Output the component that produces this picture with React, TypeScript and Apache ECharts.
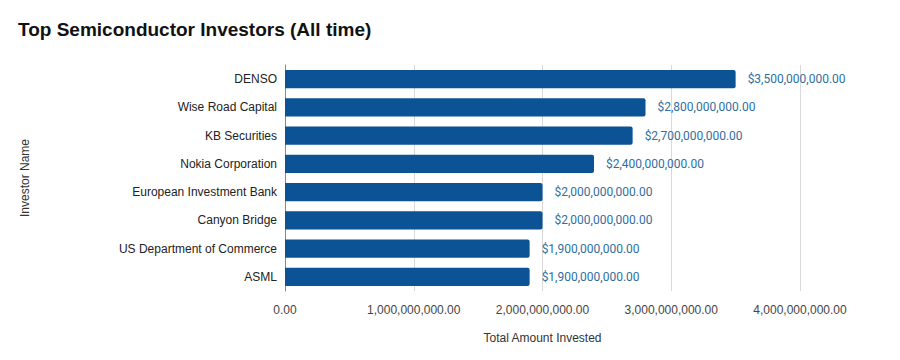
import React, { useEffect, useRef } from "react";
import * as echarts from "echarts";

const categories = [
  "DENSO",
  "Wise Road Capital",
  "KB Securities",
  "Nokia Corporation",
  "European Investment Bank",
  "Canyon Bridge",
  "US Department of Commerce",
  "ASML",
];
const amounts = [3500000000, 2800000000, 2700000000, 2400000000, 2000000000, 2000000000, 1900000000, 1900000000];
const xTicks = [0, 1000000000, 2000000000, 3000000000, 4000000000];

const fmt = (v: number) =>
  v.toLocaleString("en-US", { minimumFractionDigits: 2, maximumFractionDigits: 2 });

export default function App() {
  const ref = useRef<HTMLDivElement>(null);
  useEffect(() => {
    if (!ref.current) return;
    const chart = echarts.init(ref.current, undefined, { renderer: "svg" });
    chart.setOption({
      animation: false,
      backgroundColor: "#ffffff",
      title: {
        text: "Top Semiconductor Investors (All time)",
        left: 13,
        top: 15,
        textStyle: {
          fontFamily: "Liberation Sans, Arial, sans-serif",
          fontSize: 19,
          fontWeight: "bold",
          color: "#111",
        },
      },
      grid: { left: 285, right: 100, top: 65, bottom: 69, containLabel: false },
      xAxis: {
        type: "value",
        min: xTicks[0],
        max: xTicks[xTicks.length - 1],
        interval: 1000000000,
        name: "Total Amount Invested",
        nameLocation: "middle",
        nameGap: 41,
        nameTextStyle: { fontFamily: "Liberation Sans, Arial, sans-serif", fontSize: 12, color: "#333" },
        axisLine: { show: false },
        axisTick: { show: false },
        axisLabel: {
          formatter: (v: number) => fmt(v),
          fontFamily: "Liberation Sans, Arial, sans-serif",
          fontSize: 12,
          color: "#444",
          margin: 13,
        },
        splitLine: { show: true, lineStyle: { color: "#d9d9d9", width: 1 } },
      },
      yAxis: {
        type: "category",
        inverse: true,
        data: categories,
        name: "Investor Name",
        nameLocation: "middle",
        nameGap: 254,
        nameRotate: 90,
        nameTextStyle: { fontFamily: "Liberation Sans, Arial, sans-serif", fontSize: 12, color: "#333" },
        axisLine: { show: true, lineStyle: { color: "#888", width: 1 } },
        axisTick: { show: false },
        axisLabel: {
          fontFamily: "Liberation Sans, Arial, sans-serif",
          fontSize: 12,
          color: "#222",
          margin: 8,
        },
      },
      series: [
        {
          type: "bar",
          data: amounts,
          barCategoryGap: "36%",
          itemStyle: { color: "#0b5394", borderRadius: [0, 2, 2, 0] },
          label: {
            show: true,
            position: "right",
            distance: 12,
            formatter: (p: any) => "$" + fmt(p.value),
            fontFamily: "Roboto, sans-serif",
            fontSize: 12,
            color: "#2f6f9f",
          },
        },
      ],
    });
    return () => chart.dispose();
  }, []);
  return <div ref={ref} style={{ width: 900, height: 360, margin: -8 }} />;
}
